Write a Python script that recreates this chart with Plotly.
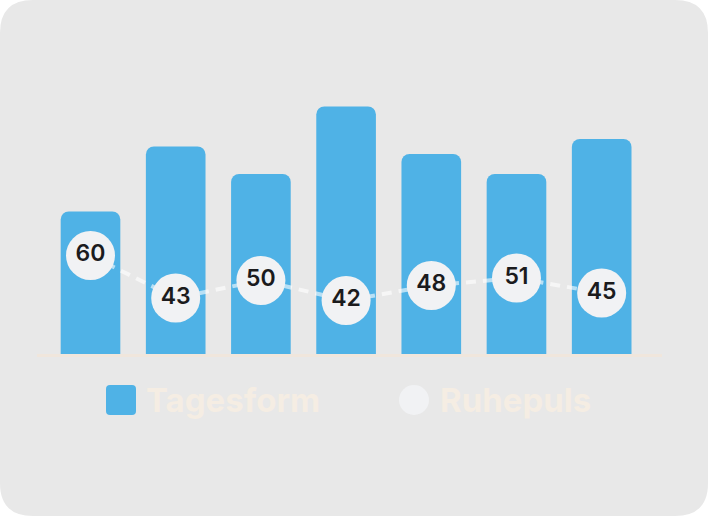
import plotly.graph_objects as go

# ---- data ----
categories = ["1", "2", "3", "4", "5", "6", "7"]
tagesform = [57, 83, 72, 99, 80, 72, 86]
ruhepuls = [60, 43, 50, 42, 48, 51, 45]
legend_labels = ["Tagesform", "Ruhepuls"]

# ---- style ----
W, H = 708, 516
ML, MR, MT, MB = 37, 46, 104, 162
PW, PH = W - ML - MR, H - MT - MB
BAR_COLOR = "#4fb2e6"
DOT_COLOR = "#f1f2f4"
CARD_COLOR = "#e8e8e8"
LEGEND_TEXT = "#f5ede3"
BASE_COLOR = "#f0e6dc"


def px(x):
    return (x - ML) / PW


def py(y):
    return (H - MB - y) / PH


def rounded_rect(x0, y0, x1, y1, r):
    rx, ry = r / PW, r / PH
    X0, X1 = px(x0), px(x1)
    Y0, Y1 = py(y0), py(y1)  # Y0 top (larger), Y1 bottom
    return (
        f"M {X0+rx},{Y0} L {X1-rx},{Y0} Q {X1},{Y0} {X1},{Y0-ry} "
        f"L {X1},{Y1+ry} Q {X1},{Y1} {X1-rx},{Y1} "
        f"L {X0+rx},{Y1} Q {X0},{Y1} {X0},{Y1+ry} "
        f"L {X0},{Y0-ry} Q {X0},{Y0} {X0+rx},{Y0} Z"
    )


fig = go.Figure()

fig.add_trace(go.Bar(
    x=categories, y=tagesform, name=legend_labels[0],
    marker=dict(color=BAR_COLOR, line=dict(width=0)),
    yaxis="y", showlegend=False,
))

fig.add_trace(go.Scatter(
    x=categories, y=ruhepuls, name=legend_labels[1],
    mode="lines+markers+text",
    line=dict(color="rgba(255,255,255,0.6)", width=4, dash="10px,7px"),
    marker=dict(size=49, color=DOT_COLOR, line=dict(width=0)),
    text=[str(v) for v in ruhepuls],
    textposition="middle center",
    textfont=dict(family="Inter", size=23, color="#1b1b1d", weight=600),
    yaxis="y2", showlegend=False, cliponaxis=False,
))

shapes = [
    dict(type="path", path=rounded_rect(0, 0, W, H, 33), xref="paper", yref="paper",
         fillcolor=CARD_COLOR, line=dict(width=0), layer="below"),
    dict(type="path", path=rounded_rect(106, 385, 136, 415, 4), xref="paper", yref="paper",
         fillcolor=BAR_COLOR, line=dict(width=0)),
    dict(type="circle", xref="paper", yref="paper",
         x0=px(399), x1=px(429), y0=py(415), y1=py(385),
         fillcolor=DOT_COLOR, line=dict(width=0)),
]

annotations = [
    dict(text=legend_labels[0], xref="paper", yref="paper", x=px(144), y=py(400),
         xanchor="left", yanchor="middle", showarrow=False,
         font=dict(family="Inter", size=33, color=LEGEND_TEXT, weight=700)),
    dict(text=legend_labels[1], xref="paper", yref="paper", x=px(438), y=py(400),
         xanchor="left", yanchor="middle", showarrow=False,
         font=dict(family="Inter", size=33, color=LEGEND_TEXT, weight=700)),
]

fig.update_layout(
    width=W, height=H,
    margin=dict(l=ML, r=MR, t=MT, b=MB, pad=0),
    paper_bgcolor="white",
    plot_bgcolor="rgba(0,0,0,0)",
    barmode="overlay",
    bargap=0.30,
    barcornerradius=8,
    showlegend=False,
    xaxis=dict(range=[-0.628, 6.708], showticklabels=False, showgrid=False,
               zeroline=False, showline=True, linecolor=BASE_COLOR, linewidth=3,
               ticks=""),
    yaxis=dict(range=[0, 100], visible=False, showgrid=False, zeroline=False),
    yaxis2=dict(range=[20.6, 120.6], overlaying="y", visible=False,
                showgrid=False, zeroline=False),
    shapes=shapes,
    annotations=annotations,
)

fig.write_html("out.html", config={"displayModeBar": False},
               post_script="document.body.style.margin='0';document.body.style.overflow='hidden';")
